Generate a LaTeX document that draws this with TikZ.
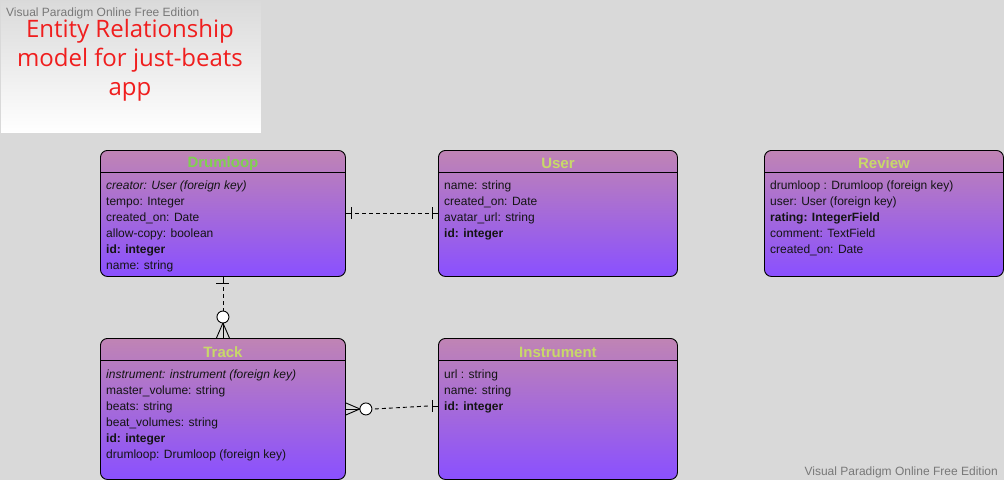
\documentclass[tikz,border=0pt]{standalone}
\usepackage{fontspec}
\setmainfont{Liberation Sans}
\newfontfamily\titlefont{Open Sans}
\usetikzlibrary{calc}
\definecolor{bg}{RGB}{217,217,217}
\definecolor{etop}{RGB}{192,132,180}
\definecolor{ebot}{RGB}{138,80,255}
\definecolor{hyel}{RGB}{200,216,106}
\definecolor{hgrn}{RGB}{128,208,80}
\definecolor{txt}{RGB}{20,20,20}
\definecolor{wm}{RGB}{120,120,120}
\definecolor{ttl}{RGB}{240,30,30}
\definecolor{notetop}{RGB}{218,218,218}
\begin{document}
\begin{tikzpicture}[x=1pt,y=-1pt,
  entity/.style={draw=black, line width=0.9pt, rounded corners=7pt, top color=etop, bottom color=ebot, inner sep=0pt, anchor=north west},
  ehead/.style={font=\fontsize{15}{18}\selectfont\bfseries, text=hyel, inner sep=0pt},
  attr/.style={font=\fontsize{12}{14}\selectfont, text=txt, anchor=base west, inner sep=0pt},
  hline/.style={line width=0.9pt, draw=black},
  conn/.style={line width=0.9pt, dash pattern=on 4pt off 3pt},
  cseg/.style={line width=0.9pt},
  wmark/.style={font=\fontsize{12}{14}\selectfont, text=wm, inner sep=0pt}]
\useasboundingbox (0,0) rectangle (1004,480);
\fill[bg] (0,0) rectangle (1004,480);
% note
\node[draw=white!85!black, line width=0.6pt, top color=notetop, bottom color=white, minimum width=261pt, minimum height=133pt, inner sep=0pt, anchor=north west] (note) at (0,0) {};
\node[wmark, anchor=base west] (wm1) at (6,16) {Visual Paradigm Online Free Edition};
\node[font=\titlefont\fontsize{24}{29}\selectfont, text=ttl, align=center, inner sep=0pt] (title) at (130,60) {Entity Relationship\\model for just-beats\\app};
\node[wmark, anchor=base east] (wm2) at (998,475) {Visual Paradigm Online Free Edition};

% Drumloop
\node[entity, minimum width=245pt, minimum height=126pt] (drum) at (100,150) {};
\draw[hline] ($(drum.north west)+(0,22)$) -- ($(drum.north east)+(0,22)$);
\node[ehead, text=hgrn] (drumT) at ($(drum.north)+(0,13.5)$) {Drumloop};
\node[attr] (d1) at (106,189) {\itshape creator: User (foreign key)};
\node[attr] (d2) at (106,205) {tempo: Integer};
\node[attr] (d3) at (106,221) {created\_on: Date};
\node[attr] (d4) at (106,237) {allow-copy: boolean};
\node[attr] (d5) at (106,253) {\bfseries id: integer};
\node[attr] (d6) at (106,269) {name: string};

% User
\node[entity, minimum width=239pt, minimum height=126pt] (user) at (438,150) {};
\draw[hline] ($(user.north west)+(0,22)$) -- ($(user.north east)+(0,22)$);
\node[ehead] (userT) at ($(user.north)+(0,13.5)$) {User};
\node[attr] (u1) at (444,189) {name: string};
\node[attr] (u2) at (444,205) {created\_on: Date};
\node[attr] (u3) at (444,221) {avatar\_url: string};
\node[attr] (u4) at (444,237) {\bfseries id: integer};

% Review
\node[entity, minimum width=239pt, minimum height=126pt] (rev) at (764,150) {};
\draw[hline] ($(rev.north west)+(0,22)$) -- ($(rev.north east)+(0,22)$);
\node[ehead] (revT) at ($(rev.north)+(0,13.5)$) {Review};
\node[attr] (r1) at (770,189) {drumloop : Drumloop (foreign key)};
\node[attr] (r2) at (770,205) {user: User (foreign key)};
\node[attr] (r3) at (770,221) {\bfseries rating: IntegerField};
\node[attr] (r4) at (770,237) {comment: TextField};
\node[attr] (r5) at (770,253) {created\_on: Date};

% Track
\node[entity, minimum width=245pt, minimum height=141pt] (track) at (100,338) {};
\draw[hline] ($(track.north west)+(0,22)$) -- ($(track.north east)+(0,22)$);
\node[ehead] (trackT) at ($(track.north)+(0,14)$) {Track};
\node[attr] (t1) at (106,378) {\itshape instrument: instrument (foreign key)};
\node[attr] (t2) at (106,394) {master\_volume: string};
\node[attr] (t3) at (106,410) {beats: string};
\node[attr] (t4) at (106,426) {beat\_volumes: string};
\node[attr] (t5) at (106,442) {\bfseries id: integer};
\node[attr] (t6) at (106,458) {drumloop: Drumloop (foreign key)};

% Instrument
\node[entity, minimum width=239pt, minimum height=141pt] (inst) at (438,338) {};
\draw[hline] ($(inst.north west)+(0,22)$) -- ($(inst.north east)+(0,22)$);
\node[ehead] (instT) at ($(inst.north)+(0,14)$) {Instrument};
\node[attr] (i1) at (444,378) {url : string};
\node[attr] (i2) at (444,394) {name: string};
\node[attr] (i3) at (444,410) {\bfseries id: integer};

% Drumloop -- User (one to one)
\coordinate (du1) at ($(drum.east)+(6,0)$);
\coordinate (du2) at ($(user.west)+(-6,0)$);
\draw[cseg] (drum.east) -- (du1);
\draw[conn] ($(du1)+(3.5,0)$) -- ($(du2)+(-3,0)$);
\draw[cseg] (du2) -- (user.west);
\draw[cseg] ($(du1)+(0,-6)$) -- ($(du1)+(0,6)$);
\draw[cseg] ($(du2)+(0,-6)$) -- ($(du2)+(0,6)$);

% Drumloop -- Track (one to zero-or-many)
\coordinate (dt1) at ($(drum.south)+(0,7)$);
\coordinate (dtc) at ($(track.north)+(0,-21)$);
\draw[cseg] (drum.south) -- (dt1);
\draw[cseg] ($(dt1)+(-6.5,0)$) -- ($(dt1)+(6.5,0)$);
\draw[conn] ($(dt1)+(0,3.5)$) -- ($(dtc)+(0,-6)$);
\draw[cseg, fill=white] (dtc) circle[radius=6pt];
\draw[cseg] ($(dtc)+(0,6)$) -- ($(track.north)+(-6.5,0)$);
\draw[cseg] ($(dtc)+(0,6)$) -- ($(track.north)+(6.5,0)$);
\draw[cseg] ($(dtc)+(0,6)$) -- (track.north);

% Track -- Instrument (zero-or-many to one)
\coordinate (tip) at ($(track.east)+(14,0)$);
\coordinate (tic) at ($(track.east)+(20,0)$);
\coordinate (ti2) at ($(inst.west)+(-6,-3)$);
\draw[cseg] ($(track.east)+(0,-6)$) -- (tip);
\draw[cseg] ($(track.east)+(0,6)$) -- (tip);
\draw[cseg] (track.east) -- (tip);
\draw[cseg, fill=white] (tic) circle[radius=6pt];
\draw[conn] ($(tic)+(9,0)$) -- ($(ti2)+(-3,0)$);
\draw[cseg] ($(ti2)+(0,-6)$) -- ($(ti2)+(0,6)$);
\draw[cseg] (ti2) -- ($(inst.west)+(0,-3)$);
\end{tikzpicture}
\end{document}
